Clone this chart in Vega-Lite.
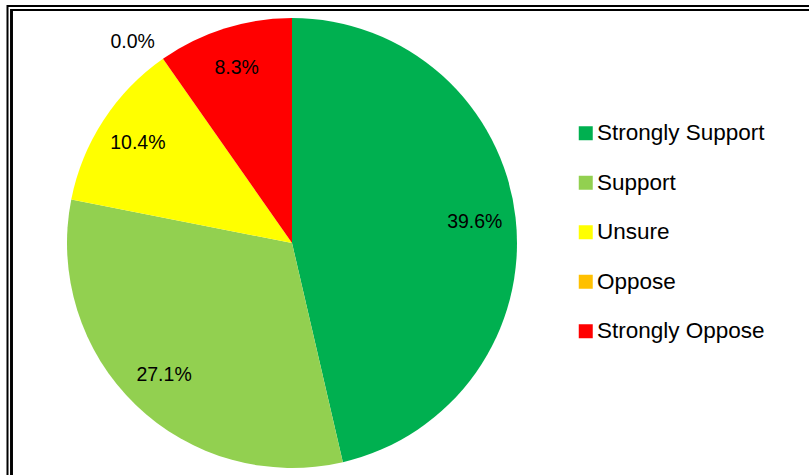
{
  "$schema": "https://vega.github.io/schema/vega-lite/v6.json",
  "autosize": "none",
  "width": 820,
  "height": 490,
  "padding": {"left": 7.5, "top": 6, "right": 0, "bottom": 0},
  "background": "white",
  "config": {
    "view": {"stroke": "black", "strokeWidth": 2},
    "font": "Liberation Sans"
  },
  "data": {
    "values": [
      {"category": "Strongly Support", "value": 39.6, "label": "39.6%", "order": 1},
      {"category": "Support", "value": 27.1, "label": "27.1%", "order": 2},
      {"category": "Unsure", "value": 10.4, "label": "10.4%", "order": 3},
      {"category": "Oppose", "value": 0.0, "label": "0.0%", "order": 4},
      {"category": "Strongly Oppose", "value": 8.3, "label": "8.3%", "order": 5}
    ]
  },
  "layer": [
    {
      "mark": {"type": "rect", "fill": null, "stroke": "black", "strokeWidth": 2},
      "encoding": {
        "x": {"value": 4},
        "x2": {"value": "width"},
        "y": {"value": 4},
        "y2": {"value": "height"}
      }
    },
    {
      "mark": {"type": "arc", "radius": 225, "strokeWidth": 0},
      "encoding": {
        "x": {"value": 284.5},
        "y": {"value": 237},
        "theta": {"field": "value", "type": "quantitative", "stack": true},
        "order": {"field": "order", "type": "quantitative"},
        "color": {
          "field": "category",
          "type": "nominal",
          "scale": {
            "domain": ["Strongly Support", "Support", "Unsure", "Oppose", "Strongly Oppose"],
            "range": ["#00B050", "#92D050", "#FFFF00", "#FFC000", "#FF0000"]
          },
          "legend": {
            "title": null,
            "orient": "none",
            "legendX": 567,
            "legendY": 116,
            "symbolType": "square",
            "symbolSize": 196,
            "symbolStrokeWidth": 0,
            "symbolOpacity": 1,
            "labelFont": "Liberation Sans",
            "labelFontSize": 22.5,
            "labelColor": "black",
            "labelOffset": 0,
            "rowPadding": 26.5,
            "padding": 0,
            "labelLimit": 300
          }
        }
      }
    },
    {
      "mark": {"type": "text", "fontSize": 19.5, "font": "Liberation Sans", "color": "black", "align": "center", "baseline": "middle", "radius": 184},
      "encoding": {
        "x": {"value": 284.5},
        "y": {"value": 237},
        "theta": {"field": "value", "type": "quantitative", "stack": true},
        "order": {"field": "order", "type": "quantitative"},
        "text": {"condition": {"test": "datum.value == 0", "value": ""}, "field": "label", "type": "nominal"}
      }
    },
    {
      "mark": {"type": "text", "fontSize": 19.5, "font": "Liberation Sans", "color": "black", "align": "center", "baseline": "middle", "radius": 257, "dx": -12, "dy": 10},
      "encoding": {
        "x": {"value": 284.5},
        "y": {"value": 237},
        "theta": {"field": "value", "type": "quantitative", "stack": true},
        "order": {"field": "order", "type": "quantitative"},
        "text": {"condition": {"test": "datum.value != 0", "value": ""}, "field": "label", "type": "nominal"}
      }
    }
  ]
}
